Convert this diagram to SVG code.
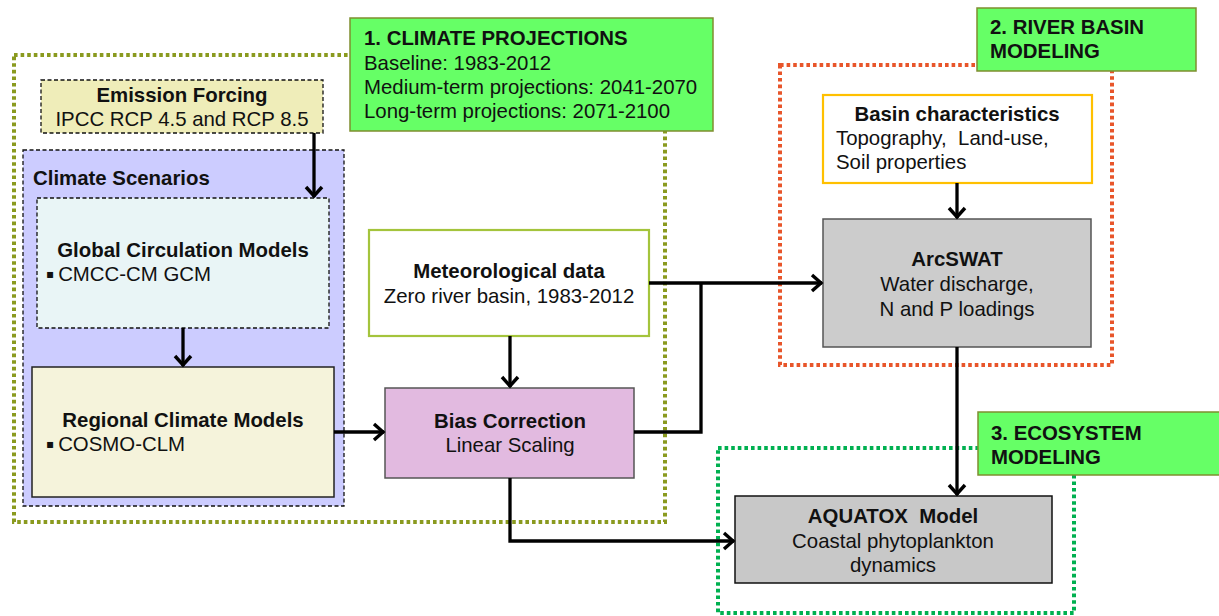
<svg xmlns="http://www.w3.org/2000/svg" width="1219" height="616" viewBox="0 0 1219 616">
<style>
text{font-family:"Liberation Sans",Arial,sans-serif;font-size:20.4px;fill:#111}
.b{font-weight:bold}
.c{text-anchor:middle}
.bul{font-family:"DejaVu Sans",sans-serif;font-size:12px}
.conn{fill:none;stroke:#000;stroke-width:3.3}
.dash{stroke:#111;stroke-width:1.3;stroke-dasharray:4 2.5}
.lbl{fill:#66FF66;stroke:#7f8f2f;stroke-width:1.5}
</style>
<defs>
<marker id="ah" markerUnits="userSpaceOnUse" markerWidth="24" markerHeight="24" viewBox="-14 -12 16 24" refX="0" refY="0" orient="auto">
<path d="M-10,-8 L-1,0 L-10,8" fill="none" stroke="#000" stroke-width="3.4"/>
</marker>
</defs>
<g id="group-climate">
<rect x="14" y="55" width="651" height="467" fill="none" stroke="#8a9a1f" stroke-width="4" stroke-dasharray="3.6 3"/>
</g>
<g id="group-river">
<rect x="780" y="65" width="332" height="300" fill="none" stroke="#e8552a" stroke-width="4" stroke-dasharray="3.6 3"/>
</g>
<g id="group-eco">
<rect x="718" y="448" width="356" height="165" fill="none" stroke="#00b050" stroke-width="4" stroke-dasharray="3.6 3"/>
</g>
<g id="scenarios">
<rect x="23" y="150" width="321" height="356" fill="#ccccff" class="dash"/>
<text x="33" y="185" class="b">Climate Scenarios</text>
</g>
<g id="label1">
<rect x="350" y="18" width="363" height="113" class="lbl"/>
<text x="364" y="45" class="b">1. CLIMATE PROJECTIONS</text>
<text x="364" y="70">Baseline: 1983-2012</text>
<text x="364" y="94">Medium-term projections: 2041-2070</text>
<text x="364" y="118">Long-term projections: 2071-2100</text>
</g>
<g id="label2">
<rect x="977" y="8" width="219" height="63" class="lbl"/>
<text x="990" y="34" class="b">2. RIVER BASIN</text>
<text x="990" y="58" class="b">MODELING</text>
</g>
<g id="label3">
<rect x="978" y="412" width="245" height="63" class="lbl"/>
<text x="991" y="440" class="b">3. ECOSYSTEM</text>
<text x="991" y="464" class="b">MODELING</text>
</g>
<g id="emission">
<rect x="41" y="80" width="282" height="53" fill="#efedb9" class="dash"/>
<text x="182" y="102" class="b c">Emission Forcing</text>
<text x="182" y="126" class="c">IPCC RCP 4.5 and RCP 8.5</text>
</g>
<g id="gcm">
<rect x="37" y="198" width="292" height="130" fill="#e9f5f6" class="dash"/>
<text x="183" y="257" class="b c">Global Circulation Models</text>
<text x="46" y="281"><tspan class="bul" dy="-3">▪</tspan><tspan dy="3" dx="4">CMCC-CM GCM</tspan></text>
</g>
<g id="rcm">
<rect x="32" y="367" width="302" height="130" fill="#f5f3db" stroke="#222" stroke-width="1.5"/>
<text x="183" y="427" class="b c">Regional Climate Models</text>
<text x="46" y="451"><tspan class="bul" dy="-3">▪</tspan><tspan dy="3" dx="4">COSMO-CLM</tspan></text>
</g>
<g id="met">
<rect x="369" y="230" width="280" height="106" fill="#fff" stroke="#a4c43c" stroke-width="2.2"/>
<text x="509" y="278" class="b c">Meteorological data</text>
<text x="509" y="303" class="c">Zero river basin, 1983-2012</text>
</g>
<g id="bias">
<rect x="385" y="388" width="249" height="90" fill="#e2bae0" stroke="#555" stroke-width="1.5"/>
<text x="510" y="428" class="b c">Bias Correction</text>
<text x="510" y="452" class="c">Linear Scaling</text>
</g>
<g id="basin">
<rect x="823" y="95" width="269" height="88" fill="#fff" stroke="#ffc000" stroke-width="2.2"/>
<text x="957" y="121" class="b c">Basin characteristics</text>
<text x="836" y="145" xml:space="preserve">Topography,  Land-use,</text>
<text x="836" y="169">Soil properties</text>
</g>
<g id="arcswat">
<rect x="823" y="219" width="268" height="128" fill="#cccccc" stroke="#555" stroke-width="1.5"/>
<text x="957" y="266" class="b c">ArcSWAT</text>
<text x="957" y="291" class="c">Water discharge,</text>
<text x="957" y="316" class="c">N and P loadings</text>
</g>
<g id="aquatox">
<rect x="735" y="496" width="317" height="87" fill="#c8c8c8" stroke="#111" stroke-width="1.5"/>
<text x="893" y="523" class="b c" xml:space="preserve">AQUATOX  Model</text>
<text x="893" y="548" class="c">Coastal phytoplankton</text>
<text x="893" y="572" class="c">dynamics</text>
</g>
<g id="connectors">
<path class="conn" d="M314,133 V197" marker-end="url(#ah)"/>
<path class="conn" d="M183,328 V366" marker-end="url(#ah)"/>
<path class="conn" d="M334,432 H384" marker-end="url(#ah)"/>
<path class="conn" d="M510,336 V387" marker-end="url(#ah)"/>
<path class="conn" d="M649,283 H822" marker-end="url(#ah)"/>
<path class="conn" d="M634,432 H701 V283"/>
<path class="conn" d="M510,478 V541 H734" marker-end="url(#ah)"/>
<path class="conn" d="M957,183 V218" marker-end="url(#ah)"/>
<path class="conn" d="M957,347 V495" marker-end="url(#ah)"/>
</g>
</svg>
